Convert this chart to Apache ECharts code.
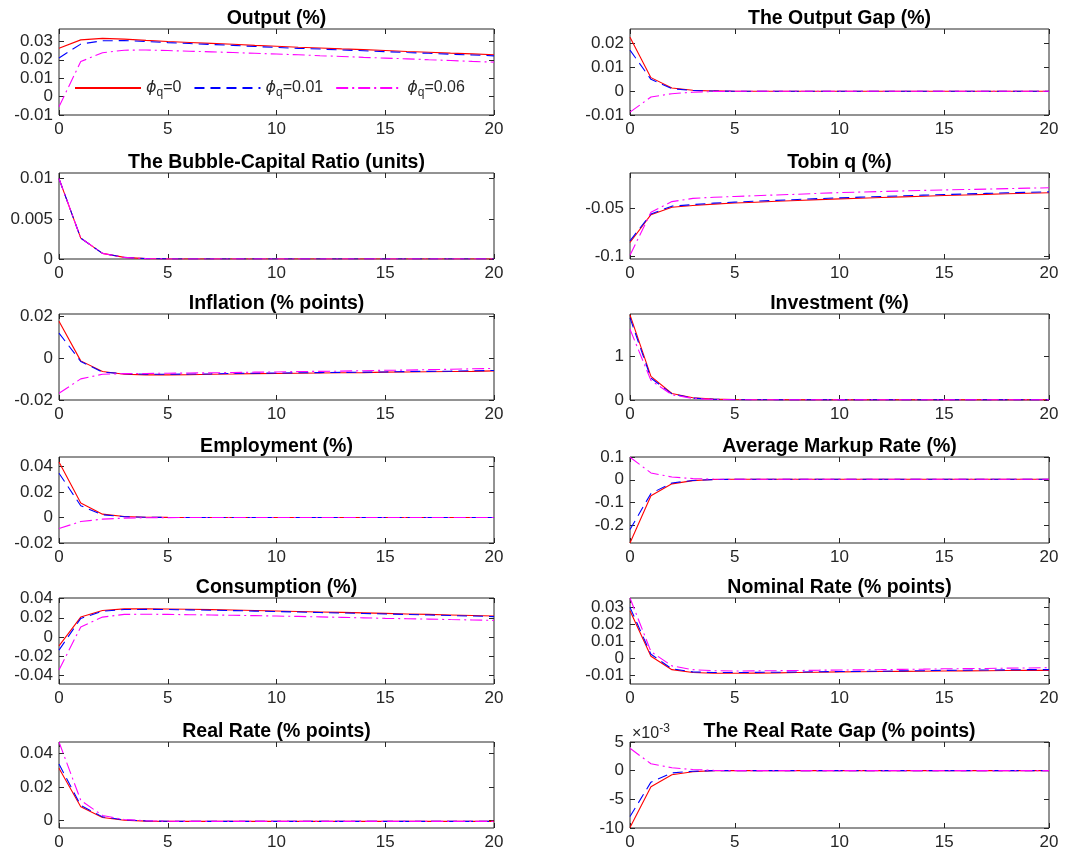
<!DOCTYPE html>
<html>
<head>
<meta charset="utf-8">
<script src="https://cdn.jsdelivr.net/npm/echarts@6/dist/echarts.min.js"></script>
<style>
  html, body { margin: 0; padding: 0; background: #fff; }
  #main { width: 1086px; height: 856px; }
</style>
</head>
<body>
<div id="main"></div>
<script>
// horizon (quarters)
var periods = [0, 1, 2, 3, 4, 5, 6, 7, 8, 9, 10, 11, 12, 13, 14, 15, 16, 17, 18, 19, 20];
var seriesNames = ['phi_q=0', 'phi_q=0.01', 'phi_q=0.06'];
var xTicks = [0, 5, 10, 15, 20];

// Output (%)
var outputPhi0   = [0.0262, 0.0308, 0.0316, 0.0312, 0.0305, 0.0299, 0.0294, 0.0289, 0.0284, 0.0278, 0.0273, 0.0268, 0.0264, 0.0259, 0.0255, 0.0250, 0.0245, 0.0241, 0.0236, 0.0232, 0.0227];
var outputPhi001 = [0.0210, 0.0285, 0.0303, 0.0304, 0.0299, 0.0293, 0.0288, 0.0283, 0.0278, 0.0272, 0.0267, 0.0262, 0.0258, 0.0253, 0.0249, 0.0244, 0.0239, 0.0235, 0.0230, 0.0226, 0.0221];
var outputPhi006 = [-0.0055, 0.0190, 0.0238, 0.0252, 0.0253, 0.0250, 0.0246, 0.0243, 0.0239, 0.0235, 0.0231, 0.0227, 0.0222, 0.0218, 0.0213, 0.0209, 0.0205, 0.0200, 0.0196, 0.0191, 0.0187];
var outputTicks = [-0.01, 0, 0.01, 0.02, 0.03];

// The Output Gap (%)
var gapPhi0   = [0.0225, 0.0056, 0.0013, 0.0003, 0.00005, -0.0001, -0.0001, -0.0001, -0.0001, -0.0001, -0.0001, -0.0001, -0.0001, -0.0001, -0.0001, -0.0001, -0.0001, -0.0001, -0.0001, -0.0001, -0.0001];
var gapPhi001 = [0.0171, 0.0049, 0.0010, 0.0002, 0, -0.0001, -0.0001, -0.0001, -0.0001, -0.0001, -0.0001, -0.0001, -0.0001, -0.0001, -0.0001, -0.0001, -0.0001, -0.0001, -0.0001, -0.0001, -0.0001];
var gapPhi006 = [-0.0088, -0.0025, -0.0011, -0.0005, -0.0002, -0.0001, -0.0001, -0.0001, -0.0001, -0.0001, -0.0001, -0.0001, -0.0001, -0.0001, -0.0001, -0.0001, -0.0001, -0.0001, -0.0001, -0.0001, -0.0001];
var gapTicks = [-0.01, 0, 0.01, 0.02];

// The Bubble-Capital Ratio (units)
var bubblePhi0   = [0.0100, 0.0026, 0.0007, 0.0002, 0.00005, 0.00001, 0, 0, 0, 0, 0, 0, 0, 0, 0, 0, 0, 0, 0, 0, 0];
var bubblePhi001 = [0.0100, 0.0026, 0.0007, 0.0002, 0.00005, 0.00001, 0, 0, 0, 0, 0, 0, 0, 0, 0, 0, 0, 0, 0, 0, 0];
var bubblePhi006 = [0.0100, 0.0026, 0.0007, 0.0002, 0.00005, 0.00001, 0, 0, 0, 0, 0, 0, 0, 0, 0, 0, 0, 0, 0, 0, 0];
var bubbleTicks = [0, 0.005, 0.01];

// Tobin q (%)
var tobinPhi0   = [-0.0854, -0.0566, -0.0490, -0.0472, -0.0457, -0.0446, -0.0437, -0.0428, -0.0419, -0.0411, -0.0403, -0.0396, -0.0389, -0.0382, -0.0375, -0.0368, -0.0362, -0.0356, -0.0350, -0.0345, -0.0340];
var tobinPhi001 = [-0.0837, -0.0559, -0.0478, -0.0462, -0.0447, -0.0436, -0.0427, -0.0418, -0.0409, -0.0400, -0.0392, -0.0385, -0.0378, -0.0371, -0.0364, -0.0358, -0.0352, -0.0346, -0.0340, -0.0335, -0.0330];
var tobinPhi006 = [-0.0986, -0.0542, -0.0431, -0.0398, -0.0386, -0.0378, -0.0370, -0.0362, -0.0355, -0.0346, -0.0338, -0.0332, -0.0327, -0.0321, -0.0315, -0.0310, -0.0306, -0.0302, -0.0297, -0.0292, -0.0288];
var tobinTicks = [-0.1, -0.05];

// Inflation (% points)
var inflPhi0   = [0.0176, -0.0013, -0.0064, -0.0077, -0.0080, -0.0080, -0.0079, -0.0077, -0.0076, -0.0074, -0.0073, -0.0072, -0.0071, -0.0070, -0.0069, -0.0067, -0.0066, -0.0065, -0.0064, -0.0063, -0.0061];
var inflPhi001 = [0.0120, -0.0016, -0.0067, -0.0074, -0.0077, -0.0077, -0.0076, -0.0075, -0.0073, -0.0072, -0.0071, -0.0070, -0.0069, -0.0068, -0.0067, -0.0066, -0.0064, -0.0063, -0.0062, -0.0060, -0.0059];
var inflPhi006 = [-0.0168, -0.0099, -0.0077, -0.0074, -0.0073, -0.0072, -0.0071, -0.0070, -0.0069, -0.0067, -0.0066, -0.0064, -0.0063, -0.0062, -0.0060, -0.0058, -0.0057, -0.0055, -0.0053, -0.0051, -0.0049];
var inflTicks = [-0.02, 0, 0.02];

// Investment (%)
var invPhi0   = [1.95, 0.54, 0.15, 0.05, 0.020, 0.010, 0.006, 0.005, 0.004, 0.004, 0.004, 0.004, 0.004, 0.004, 0.004, 0.004, 0.004, 0.004, 0.004, 0.004, 0.004];
var invPhi001 = [1.88, 0.50, 0.14, 0.045, 0.016, 0.008, 0.005, 0.004, 0.004, 0.004, 0.004, 0.004, 0.004, 0.004, 0.004, 0.004, 0.004, 0.004, 0.004, 0.004, 0.004];
var invPhi006 = [1.62, 0.45, 0.12, 0.035, 0.012, 0.006, 0.004, 0.004, 0.004, 0.004, 0.004, 0.004, 0.004, 0.004, 0.004, 0.004, 0.004, 0.004, 0.004, 0.004, 0.004];
var invTicks = [0, 1];

// Employment (%)
var empPhi0   = [0.0434, 0.0113, 0.0026, 0.0008, 0.0002, 0.00005, 0, 0, 0, 0, 0, 0, 0, 0, 0, 0, 0, 0, 0, 0, 0];
var empPhi001 = [0.0347, 0.0092, 0.0021, 0.0006, 0.0002, 0.00005, 0, 0, 0, 0, 0, 0, 0, 0, 0, 0, 0, 0, 0, 0, 0];
var empPhi006 = [-0.0087, -0.0032, -0.0013, -0.0005, -0.0002, -0.0001, 0, 0, 0, 0, 0, 0, 0, 0, 0, 0, 0, 0, 0, 0, 0];
var empTicks = [-0.02, 0, 0.02, 0.04];

// Average Markup Rate (%)
var markupPhi0   = [-0.278, -0.070, -0.018, -0.004, 0.001, 0.002, 0.002, 0.002, 0.002, 0.002, 0.002, 0.002, 0.002, 0.002, 0.002, 0.002, 0.002, 0.002, 0.002, 0.002, 0.002];
var markupPhi001 = [-0.219, -0.060, -0.014, -0.003, 0.001, 0.002, 0.002, 0.002, 0.002, 0.002, 0.002, 0.002, 0.002, 0.002, 0.002, 0.002, 0.002, 0.002, 0.002, 0.002, 0.002];
var markupPhi006 = [0.099, 0.030, 0.012, 0.005, 0.003, 0.002, 0.002, 0.002, 0.002, 0.002, 0.002, 0.002, 0.002, 0.002, 0.002, 0.002, 0.002, 0.002, 0.002, 0.002, 0.002];
var markupTicks = [-0.2, -0.1, 0, 0.1];

// Consumption (%)
var consPhi0   = [-0.0094, 0.0207, 0.0276, 0.0293, 0.0294, 0.0292, 0.0289, 0.0285, 0.0281, 0.0276, 0.0271, 0.0266, 0.0261, 0.0256, 0.0251, 0.0246, 0.0240, 0.0235, 0.0229, 0.0224, 0.0218];
var consPhi001 = [-0.0139, 0.0193, 0.0269, 0.0286, 0.0288, 0.0286, 0.0283, 0.0279, 0.0275, 0.0270, 0.0265, 0.0260, 0.0255, 0.0250, 0.0245, 0.0240, 0.0234, 0.0229, 0.0223, 0.0218, 0.0212];
var consPhi006 = [-0.0347, 0.0104, 0.0207, 0.0235, 0.0237, 0.0235, 0.0232, 0.0229, 0.0226, 0.0222, 0.0218, 0.0214, 0.0209, 0.0204, 0.0199, 0.0194, 0.0190, 0.0186, 0.0181, 0.0177, 0.0172];
var consTicks = [-0.04, -0.02, 0, 0.02, 0.04];

// Nominal Rate (% points)
var nomPhi0   = [0.0280, 0.0014, -0.0065, -0.0082, -0.0086, -0.0086, -0.0085, -0.0084, -0.0082, -0.0080, -0.0078, -0.0077, -0.0076, -0.0075, -0.0074, -0.0073, -0.0072, -0.0071, -0.0070, -0.0069, -0.0069];
var nomPhi001 = [0.0300, 0.0025, -0.0060, -0.0078, -0.0082, -0.0082, -0.0081, -0.0080, -0.0079, -0.0077, -0.0076, -0.0075, -0.0074, -0.0072, -0.0071, -0.0069, -0.0068, -0.0067, -0.0066, -0.0065, -0.0065];
var nomPhi006 = [0.0355, 0.0041, -0.0043, -0.0065, -0.0071, -0.0073, -0.0072, -0.0071, -0.0070, -0.0068, -0.0067, -0.0066, -0.0065, -0.0063, -0.0062, -0.0060, -0.0059, -0.0058, -0.0056, -0.0055, -0.0053];
var nomTicks = [-0.01, 0, 0.01, 0.02, 0.03];

// Real Rate (% points)
var realPhi0   = [0.0310, 0.0082, 0.0018, 0.0002, -0.0003, -0.0005, -0.0005, -0.0005, -0.0005, -0.0005, -0.0005, -0.0005, -0.0005, -0.0005, -0.0005, -0.0005, -0.0005, -0.0005, -0.0005, -0.0005, -0.0005];
var realPhi001 = [0.0335, 0.0090, 0.0022, 0.0004, -0.0002, -0.0004, -0.0005, -0.0005, -0.0005, -0.0005, -0.0005, -0.0005, -0.0005, -0.0005, -0.0005, -0.0005, -0.0005, -0.0005, -0.0005, -0.0005, -0.0005];
var realPhi006 = [0.0466, 0.0120, 0.0030, 0.0006, -0.0001, -0.0004, -0.0005, -0.0005, -0.0005, -0.0005, -0.0005, -0.0005, -0.0005, -0.0005, -0.0005, -0.0005, -0.0005, -0.0005, -0.0005, -0.0005, -0.0005];
var realTicks = [0, 0.02, 0.04];

// The Real Rate Gap (% points)
var rgapPhi0   = [-0.0099, -0.0028, -0.0007, -0.0002, 0, 0, 0, 0, 0, 0, 0, 0, 0, 0, 0, 0, 0, 0, 0, 0, 0];
var rgapPhi001 = [-0.0080, -0.0020, -0.0004, -0.0001, 0, 0, 0, 0, 0, 0, 0, 0, 0, 0, 0, 0, 0, 0, 0, 0, 0];
var rgapPhi006 = [0.0039, 0.0012, 0.0005, 0.0002, 0.00005, 0, 0, 0, 0, 0, 0, 0, 0, 0, 0, 0, 0, 0, 0, 0, 0];
var rgapTicks = [-0.01, -0.005, 0, 0.005];

var panels = [
  { title: 'Output (%)', lines: [outputPhi0, outputPhi001, outputPhi006], min: -0.01, max: 0.0367, ticks: outputTicks },
  { title: 'The Output Gap (%)', lines: [gapPhi0, gapPhi001, gapPhi006], min: -0.01, max: 0.0259, ticks: gapTicks },
  { title: 'The Bubble-Capital Ratio (units)', lines: [bubblePhi0, bubblePhi001, bubblePhi006], min: 0, max: 0.0107, ticks: bubbleTicks },
  { title: 'Tobin q (%)', lines: [tobinPhi0, tobinPhi001, tobinPhi006], min: -0.1025, max: -0.0135, ticks: tobinTicks },
  { title: 'Inflation (% points)', lines: [inflPhi0, inflPhi001, inflPhi006], min: -0.02, max: 0.0211, ticks: inflTicks },
  { title: 'Investment (%)', lines: [invPhi0, invPhi001, invPhi006], min: 0, max: 1.97, ticks: invTicks },
  { title: 'Employment (%)', lines: [empPhi0, empPhi001, empPhi006], min: -0.02, max: 0.0474, ticks: empTicks },
  { title: 'Average Markup Rate (%)', lines: [markupPhi0, markupPhi001, markupPhi006], min: -0.278, max: 0.1, ticks: markupTicks },
  { title: 'Consumption (%)', lines: [consPhi0, consPhi001, consPhi006], min: -0.0494, max: 0.0407, ticks: consTicks },
  { title: 'Nominal Rate (% points)', lines: [nomPhi0, nomPhi001, nomPhi006], min: -0.0149, max: 0.0355, ticks: nomTicks },
  { title: 'Real Rate (% points)', lines: [realPhi0, realPhi001, realPhi006], min: -0.0044, max: 0.0466, ticks: realTicks },
  { title: 'The Real Rate Gap (% points)', lines: [rgapPhi0, rgapPhi001, rgapPhi006], min: -0.01, max: 0.005, ticks: rgapTicks, scale: 1000 }
];

var FONT = '"Liberation Sans", Arial, Helvetica, sans-serif';
var INK = '#262626';
var colors = ['#ff0000', '#0000ff', '#ff00ff'];
var dashes = ['solid', [10, 6], [12, 4, 2, 4]];

var colLeft = [59, 630];
var colWidth = [435, 419];
var rowTop = [29, 173, 314, 457, 598, 742];
var plotH = 86;

var grids = [], xAxes = [], yAxes = [], series = [];

panels.forEach(function (p, i) {
  var row = Math.floor(i / 2), col = i % 2;
  grids.push({
    left: colLeft[col], top: rowTop[row], width: colWidth[col], height: plotH,
    show: true, borderColor: INK, borderWidth: 1, backgroundColor: '#fff'
  });

  var tick = { show: true, inside: true, length: 5, lineStyle: { color: INK, width: 1 } };
  // bottom x axis with labels
  xAxes.push({
    gridIndex: i, type: 'value', position: 'bottom', min: 0, max: 20, interval: 5,
    axisLine: { show: false, onZero: false }, splitLine: { show: false }, axisTick: tick,
    axisLabel: { color: INK, fontSize: 17, fontFamily: FONT, margin: 6 }
  });
  // top x axis: ticks only, carries the panel title
  xAxes.push({
    gridIndex: i, type: 'value', position: 'top', min: 0, max: 20, interval: 5,
    axisLine: { show: false, onZero: false }, splitLine: { show: false }, axisTick: tick,
    axisLabel: { show: false },
    name: p.title, nameLocation: 'middle', nameGap: 0,
    nameTextStyle: { color: '#000', fontSize: 19.5, fontWeight: 'bold', fontFamily: FONT }
  });

  var fmt = function (v) {
    var s = p.scale ? v * p.scale : v;
    return String(+s.toFixed(6));
  };
  var yTick = { show: true, inside: true, length: 5, customValues: p.ticks, lineStyle: { color: INK, width: 1 } };
  var yLeft = {
    gridIndex: i, type: 'value', position: 'left', min: p.min, max: p.max,
    axisLine: { show: false, onZero: false }, splitLine: { show: false }, axisTick: yTick,
    axisLabel: { color: INK, fontSize: 17, fontFamily: FONT, margin: 6, customValues: p.ticks, formatter: fmt, hideOverlap: false }
  };
  if (p.scale) {
    yLeft.name = '×10{sup|-3}';
    yLeft.nameLocation = 'end';
    yLeft.nameGap = -2;
    yLeft.nameTextStyle = {
      color: INK, fontSize: 16, fontFamily: FONT, align: 'left', padding: [0, 0, 0, 2],
      rich: { sup: { fontSize: 12, fontFamily: FONT, color: INK, padding: [0, 0, 9, 0] } }
    };
  }
  yAxes.push(yLeft);
  yAxes.push({
    gridIndex: i, type: 'value', position: 'right', min: p.min, max: p.max,
    axisLine: { show: false, onZero: false }, splitLine: { show: false }, axisTick: yTick,
    axisLabel: { show: false }
  });

  p.lines.forEach(function (vals, k) {
    series.push({
      name: seriesNames[k], type: 'line',
      xAxisIndex: 2 * i, yAxisIndex: 2 * i,
      symbol: 'none', animation: false,
      data: periods.map(function (t, j) { return [t, vals[j]]; }),
      lineStyle: { color: colors[k], width: 1.1, type: dashes[k] },
      itemStyle: { color: colors[k] }
    });
  });
});

var option = {
  backgroundColor: '#fff',
  animation: false,
  grid: grids,
  xAxis: xAxes,
  yAxis: yAxes,
  legend: {
    data: seriesNames,
    left: 74, top: 80,
    itemWidth: 66, itemHeight: 14, itemGap: 12,
    padding: 0,
    itemStyle: { opacity: 0 },
    formatter: function (name) {
      return '{phi|ϕ}{sub|q}{eq|=' + name.split('=')[1] + '}';
    },
    textStyle: {
      color: INK, fontSize: 16, fontFamily: FONT,
      rich: {
        phi: { fontSize: 16, fontStyle: 'italic', fontFamily: '"DejaVu Sans", sans-serif', color: INK },
        sub: { fontSize: 12, fontFamily: FONT, color: INK, padding: [9, 0, 0, 0] },
        eq: { fontSize: 16, fontFamily: FONT, color: INK }
      }
    }
  },
  series: series
};

var chart = echarts.init(document.getElementById('main'), null, { renderer: 'canvas' });
chart.setOption(option);
</script>
</body>
</html>
